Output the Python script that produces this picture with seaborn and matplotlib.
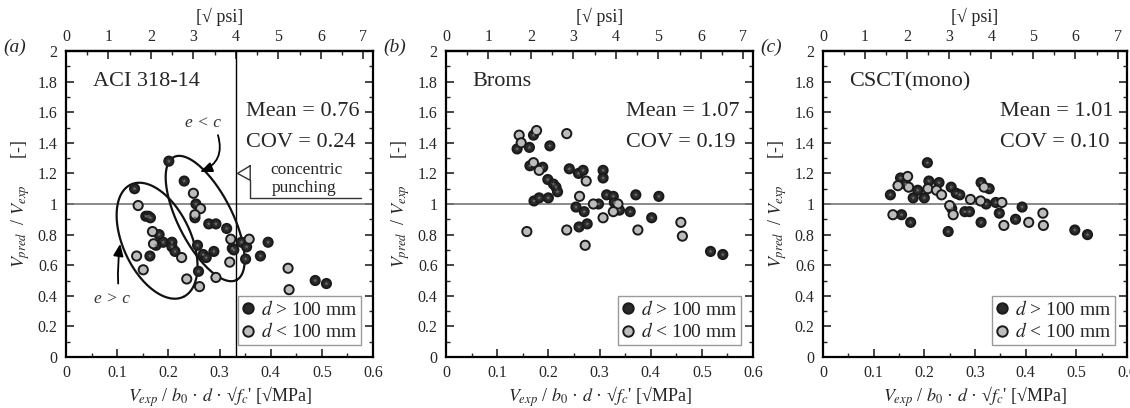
import numpy as np
import pandas as pd
import matplotlib
matplotlib.use("Agg")
import matplotlib.pyplot as plt
import seaborn as sns
from matplotlib.lines import Line2D
from matplotlib.ticker import MultipleLocator, FuncFormatter

sns.set_theme(style="ticks")
plt.rcParams['font.family'] = ['Liberation Serif', 'DejaVu Serif']
plt.rcParams['mathtext.fontset'] = 'stix'

# ---------------- data ----------------
# (a) ACI 318-14
aci_big_x = [0.134, 0.156, 0.161, 0.165, 0.182, 0.190, 0.207, 0.207, 0.213, 0.164, 0.201, 0.231,
             0.254, 0.252, 0.279, 0.293, 0.314, 0.257, 0.268, 0.274, 0.289, 0.259, 0.325, 0.328,
             0.343, 0.353, 0.351, 0.380, 0.395, 0.487, 0.509, 0.176]
aci_big_y = [1.10, 0.92, 0.92, 0.91, 0.80, 0.75, 0.75, 0.72, 0.69, 0.66, 1.28, 1.15,
             1.00, 0.91, 0.87, 0.87, 0.84, 0.73, 0.67, 0.65, 0.69, 0.56, 0.71, 0.70,
             0.75, 0.72, 0.64, 0.66, 0.75, 0.50, 0.48, 0.73]
aci_small_x = [0.141, 0.138, 0.151, 0.169, 0.171, 0.226, 0.236, 0.249, 0.263, 0.252, 0.261,
               0.293, 0.320, 0.322, 0.358, 0.434, 0.436]
aci_small_y = [0.99, 0.66, 0.57, 0.82, 0.74, 0.65, 0.51, 1.07, 0.97, 0.93, 0.46,
               0.52, 0.62, 0.77, 0.77, 0.58, 0.44]

# (b) Broms
broms_big_x = [0.139, 0.163, 0.171, 0.203, 0.164, 0.189, 0.199, 0.210, 0.215, 0.218, 0.172,
               0.182, 0.200, 0.241, 0.259, 0.268, 0.307, 0.307, 0.254, 0.270, 0.298, 0.314,
               0.327, 0.329, 0.339, 0.360, 0.260, 0.276, 0.371, 0.416, 0.402, 0.517, 0.541]
broms_big_y = [1.36, 1.37, 1.45, 1.38, 1.25, 1.24, 1.16, 1.13, 1.11, 1.08, 1.02,
               1.04, 1.04, 1.23, 1.20, 1.22, 1.22, 1.17, 0.98, 0.95, 1.00, 1.06,
               1.05, 1.01, 0.96, 0.95, 0.85, 0.87, 1.06, 1.05, 0.91, 0.69, 0.67]
broms_small_x = [0.143, 0.147, 0.177, 0.236, 0.171, 0.182, 0.274, 0.261, 0.288, 0.336,
                 0.327, 0.307, 0.236, 0.158, 0.375, 0.272, 0.459, 0.462]
broms_small_y = [1.45, 1.40, 1.48, 1.46, 1.27, 1.22, 1.15, 1.05, 1.00, 1.00,
                 0.95, 0.91, 0.83, 0.82, 0.83, 0.73, 0.88, 0.79]

# (c) CSCT(mono)
csct_big_x = [0.133, 0.155, 0.173, 0.153, 0.163, 0.178, 0.187, 0.200, 0.209, 0.206, 0.229,
              0.247, 0.253, 0.263, 0.270, 0.280, 0.289, 0.312, 0.322, 0.312, 0.328, 0.341,
              0.348, 0.380, 0.393, 0.497, 0.522, 0.254]
csct_big_y = [1.06, 0.93, 0.88, 1.17, 1.13, 1.04, 1.09, 1.04, 1.15, 1.27, 1.14,
              0.82, 1.11, 1.07, 1.06, 0.95, 0.95, 0.88, 1.00, 1.14, 1.10, 1.01,
              0.94, 0.90, 0.98, 0.83, 0.80, 0.97]
csct_small_x = [0.138, 0.148, 0.167, 0.169, 0.207, 0.224, 0.234, 0.250, 0.257, 0.291, 0.311,
                0.318, 0.353, 0.357, 0.406, 0.434, 0.435]
csct_small_y = [0.93, 1.12, 1.18, 1.11, 1.10, 1.09, 1.06, 0.99, 0.93, 1.03, 1.02,
                1.11, 1.01, 0.86, 0.88, 0.94, 0.86]

titles = ["ACI 318-14", "Broms", "CSCT(mono)"]
means = ["0.76", "1.07", "1.01"]
covs = ["0.24", "0.19", "0.10"]
letters = ["(a)", "(b)", "(c)"]
groups = ["$d$ > 100 mm", "$d$ < 100 mm"]

panels = [
    (aci_big_x, aci_big_y, aci_small_x, aci_small_y),
    (broms_big_x, broms_big_y, broms_small_x, broms_small_y),
    (csct_big_x, csct_big_y, csct_small_x, csct_small_y),
]

DARK = "#2b2b2b"
LIGHT = "#bcbcbc"
EDGE = "#1a1a1a"

W, H = 1130, 408
fig = plt.figure(figsize=(W / 100, H / 100), dpi=100)

lefts = [66, 446, 823]
widths = [307, 307, 304]
top_px, bot_px = 51, 357

MPA_TO_PSI = 12.04

axes = []
for i, (bx, by, sx, sy) in enumerate(panels):
    l = lefts[i] / W
    b = (H - bot_px) / H
    ax = fig.add_axes([l, b, widths[i] / W, (bot_px - top_px) / H])
    axes.append(ax)
    df = pd.DataFrame({
        "x": list(bx) + list(sx),
        "y": list(by) + list(sy),
        "g": [groups[0]] * len(bx) + [groups[1]] * len(sx),
    })
    sns.scatterplot(data=df, x="x", y="y", hue="g", palette={groups[0]: DARK, groups[1]: LIGHT},
                    edgecolor=EDGE, linewidth=1.4, s=44, ax=ax, legend=False, zorder=3)
    # faint star inside the dark markers
    sns.scatterplot(data=df[df["g"] == groups[0]], x="x", y="y", marker="*", color="#6e6e6e",
                    edgecolor="none", s=10, ax=ax, legend=False, zorder=4)
    ax.set_xlim(0, 0.6)
    ax.set_ylim(0, 2)
    ax.axhline(1.0, color="#777777", lw=1.2, zorder=1)

    ax.xaxis.set_major_locator(MultipleLocator(0.1))
    ax.xaxis.set_minor_locator(MultipleLocator(0.05))
    ax.yaxis.set_major_locator(MultipleLocator(0.2))
    ax.yaxis.set_minor_locator(MultipleLocator(0.1))
    ax.xaxis.set_major_formatter(FuncFormatter(lambda v, p: f"{v:g}"))
    ax.yaxis.set_major_formatter(FuncFormatter(lambda v, p: f"{v:g}"))
    ax.tick_params(which="both", direction="in", right=True, top=False, labelsize=11.5, pad=6)
    ax.tick_params(which="major", length=6, width=1.2)
    ax.tick_params(which="minor", length=3, width=1.0)
    for sp in ax.spines.values():
        sp.set_linewidth(1.6)
        sp.set_color("black")

    ax.set_xlabel(r"$V_{exp}$ / $b_{\mathit{0}}$ · $d$ · √$f_c$' [√MPa]", fontsize=13, labelpad=2)
    ax.set_ylabel(r"$V_{pred}$  / $V_{exp}$      [-]", fontsize=13, labelpad=4)

    sec = ax.secondary_xaxis("top", functions=(lambda v: v * MPA_TO_PSI, lambda v: v / MPA_TO_PSI))
    sec.xaxis.set_major_locator(MultipleLocator(1))
    sec.xaxis.set_minor_locator(MultipleLocator(0.5))
    sec.tick_params(which="both", direction="in", labelsize=11.5, pad=4)
    sec.tick_params(which="major", length=6, width=1.2)
    sec.tick_params(which="minor", length=3, width=1.0)
    sec.set_xlabel("[√ psi]", fontsize=13, labelpad=5)
    sec.spines["top"].set_linewidth(1.6)

    ax.text(0.052, 1.80, titles[i], fontsize=16, ha="left", va="center")
    ax.text(0.574, 1.605, f"Mean = {means[i]}", fontsize=16, ha="right", va="center")
    ax.text(0.566, 1.405, f"COV = {covs[i]}", fontsize=16, ha="right", va="center")

    handles = [Line2D([], [], marker="o", ls="", markerfacecolor=DARK, markeredgecolor=EDGE,
                      markeredgewidth=1.4, markersize=7.5),
               Line2D([], [], marker="o", ls="", markerfacecolor=LIGHT, markeredgecolor=EDGE,
                      markeredgewidth=1.4, markersize=7.5)]
    leg = ax.legend(handles, groups, loc="lower right", fontsize=14, frameon=True,
                    fancybox=False, framealpha=1, edgecolor="#9a9a9a", handlelength=0.6,
                    handletextpad=0.35, borderpad=0.2, labelspacing=0.2, borderaxespad=0.6)
    leg.get_frame().set_linewidth(1.0)
    leg.set_zorder(5)

    fig.text((lefts[i] - 63) / W, (H - 47) / H, letters[i], fontsize=14, style="italic",
             ha="left", va="center")

# ---------------- panel (a) annotations ----------------
ax = axes[0]
psi4 = 4 / MPA_TO_PSI
ax.axvline(psi4, color="black", lw=1.0, zorder=1)

pxu = widths[0] / 0.6
pyu = (bot_px - top_px) / 2.0


def draw_ellipse(ax, cx, cy, a, b, ang):
    t = np.linspace(0, 2 * np.pi, 200)
    th = np.deg2rad(ang)
    ex = a * np.cos(t) * np.cos(th) - b * np.sin(t) * np.sin(th)
    ey = a * np.cos(t) * np.sin(th) + b * np.sin(t) * np.cos(th)
    ax.plot(cx + ex / pxu, cy + ey / pyu, color="#111111", lw=1.6, zorder=2)


draw_ellipse(ax, 0.178, 0.76, 62, 34, -65)
draw_ellipse(ax, 0.272, 0.905, 69, 27, -63)

ax.text(0.268, 1.53, "e < c", fontsize=12.5, style="italic", ha="center", va="center", color="#333333")
ax.annotate("", xy=(0.262, 1.21), xytext=(0.297, 1.45),
            arrowprops=dict(arrowstyle="-|>,head_length=0.6,head_width=0.25", color="black", lw=1.3,
                            connectionstyle="arc3,rad=-0.45", shrinkA=0, shrinkB=0))
ax.text(0.090, 0.38, "e > c", fontsize=12.5, style="italic", ha="center", va="center", color="#333333")
ax.annotate("", xy=(0.106, 0.74), xytext=(0.102, 0.48),
            arrowprops=dict(arrowstyle="-|>,head_length=0.6,head_width=0.25", color="black", lw=1.3,
                            connectionstyle="arc3,rad=-0.05", shrinkA=0, shrinkB=0))

# concentric punching callout
tri_x = [0.360, psi4 + 0.003, 0.360, 0.360]
tri_y = [1.25, 1.20, 1.155, 1.25]
ax.plot(tri_x, tri_y, color="#333333", lw=1.0, zorder=2)
ax.plot([0.360, 0.360, 0.577], [1.155, 1.037, 1.037], color="#333333", lw=1.0, zorder=2)
ax.text(0.470, 1.225, "concentric", fontsize=12.5, ha="center", va="center")
ax.text(0.466, 1.105, "punching", fontsize=12.5, ha="center", va="center")

fig.savefig("out.png", dpi=100)
